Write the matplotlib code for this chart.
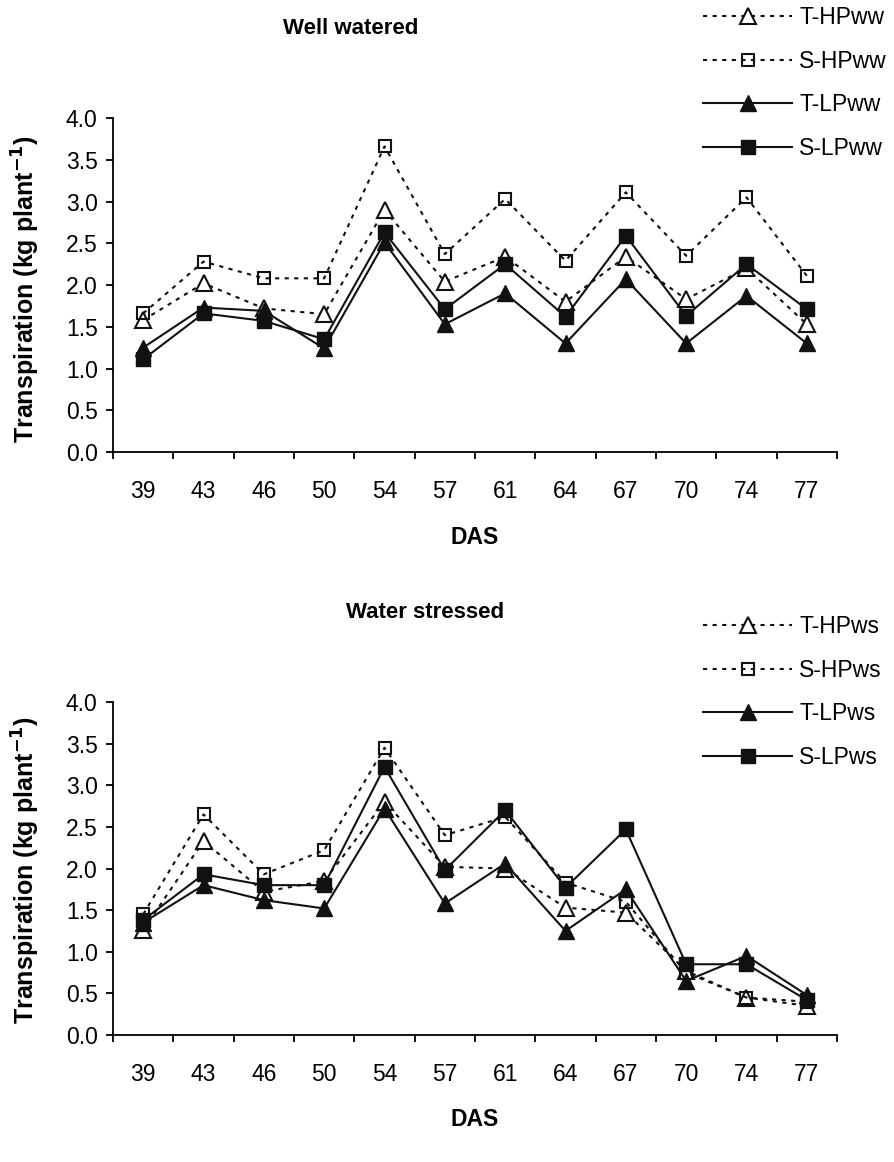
import numpy as np
import matplotlib
matplotlib.use("Agg")
from matplotlib import pyplot as plt

plt.rcParams["font.family"] = ["Liberation Sans", "DejaVu Sans"]

## data
days = ["39", "43", "46", "50", "54", "57", "61", "64", "67", "70", "74", "77"]

t_hp_ww = [1.58, 2.02, 1.72, 1.65, 2.90, 2.04, 2.34, 1.80, 2.34, 1.83, 2.20, 1.53]
s_hp_ww = [1.66, 2.28, 2.08, 2.08, 3.66, 2.37, 3.03, 2.29, 3.11, 2.35, 3.05, 2.11]
t_lp_ww = [1.25, 1.73, 1.69, 1.24, 2.51, 1.53, 1.90, 1.30, 2.07, 1.30, 1.87, 1.30]
s_lp_ww = [1.11, 1.66, 1.57, 1.35, 2.63, 1.71, 2.25, 1.62, 2.59, 1.63, 2.25, 1.71]

t_hp_ws = [1.26, 2.33, 1.72, 1.85, 2.80, 2.02, 2.00, 1.53, 1.47, 0.77, 0.45, 0.35]
s_hp_ws = [1.45, 2.65, 1.93, 2.22, 3.45, 2.40, 2.62, 1.83, 1.60, 0.75, 0.45, 0.40]
t_lp_ws = [1.35, 1.80, 1.62, 1.52, 2.72, 1.58, 2.06, 1.25, 1.75, 0.65, 0.95, 0.48]
s_lp_ws = [1.38, 1.93, 1.80, 1.80, 3.22, 1.98, 2.70, 1.77, 2.47, 0.85, 0.85, 0.42]

W, H = 894, 1162
FS = 16.5
dash = (0, (2, 2.6))


def fx(px):
    return px / W


def fy(py):
    return 1 - py / H


def draw_panel(ax, series, labels, legend_top):
    x = np.arange(len(days))
    t_hp, s_hp, t_lp, s_lp = series
    ax.plot(x, t_hp, color="#111111", lw=1.5, ls=dash, marker="^", ms=11,
            mfc="white", mec="#111111", mew=1.5, label=labels[0])
    ax.plot(x, s_hp, color="#111111", lw=1.5, ls=dash, marker="s", ms=8.5,
            mfc="none", mec="#111111", mew=1.5, label=labels[1])
    ax.plot(x, t_lp, color="#111111", lw=1.5, ls="-", marker="^", ms=11,
            mfc="#111111", mec="#111111", label=labels[2])
    ax.plot(x, s_lp, color="#111111", lw=1.5, ls="-", marker="s", ms=9.5,
            mfc="#111111", mec="#111111", label=labels[3])

    ax.set_xlim(-0.5, len(days) - 0.5)
    ax.set_ylim(0, 4)
    ax.set_yticks(np.arange(0, 4.01, 0.5))
    ax.set_yticklabels([f"{v:.1f}" for v in np.arange(0, 4.01, 0.5)], fontsize=FS)

    # ticks between categories, labels at category centres
    ax.set_xticks(np.arange(-0.5, len(days), 1.0))
    ax.set_xticklabels([])
    ax.set_xticks(x, minor=True)
    ax.set_xticklabels(days, minor=True, fontsize=FS)
    ax.tick_params(axis="x", which="major", direction="out", length=5, width=1.3)
    ax.tick_params(axis="x", which="minor", length=0, pad=20)
    ax.tick_params(axis="y", direction="out", length=5, width=1.3, pad=6)

    for side in ["top", "right"]:
        ax.spines[side].set_visible(False)
    for side in ["left", "bottom"]:
        ax.spines[side].set_linewidth(1.3)
    for ln in ax.lines:
        ln.set_clip_on(False)

    fig.legend(handles=ax.lines, labels=labels, loc="upper left",
               bbox_to_anchor=(fx(703), fy(legend_top)), bbox_transform=fig.transFigure,
               frameon=False, fontsize=FS, handlelength=3.9, handletextpad=0.3,
               labelspacing=0.9, borderpad=0, borderaxespad=0)


fig = plt.figure(figsize=(W / 100, H / 100), dpi=100)

ax1 = fig.add_axes([fx(113), fy(452), fx(724), 334 / H])
draw_panel(ax1, [t_hp_ww, s_hp_ww, t_lp_ww, s_lp_ww],
           ["T-HPww", "S-HPww", "T-LPww", "S-LPww"], 6)

ax2 = fig.add_axes([fx(113), fy(1035), fx(724), 333 / H])
draw_panel(ax2, [t_hp_ws, s_hp_ws, t_lp_ws, s_lp_ws],
           ["T-HPws", "S-HPws", "T-LPws", "S-LPws"], 615)

## titles and axis labels
fig.text(fx(351), fy(28), "Well watered", fontsize=FS - 0.5, fontweight="bold",
         ha="center", va="center")
fig.text(fx(425), fy(613), "Water stressed", fontsize=FS - 0.5, fontweight="bold",
         ha="center", va="center")

ylab = r"Transpiration (kg plant$^{\mathbf{-1}}$)"
fig.text(fx(26), fy(289), ylab, fontsize=18, fontweight="bold",
         rotation=90, ha="center", va="center")
fig.text(fx(26), fy(870), ylab, fontsize=18, fontweight="bold",
         rotation=90, ha="center", va="center")

fig.text(fx(475), fy(537), "DAS", fontsize=FS, fontweight="bold",
         ha="center", va="center")
fig.text(fx(475), fy(1120), "DAS", fontsize=FS, fontweight="bold",
         ha="center", va="center")

fig.savefig("out.png", dpi=100)
